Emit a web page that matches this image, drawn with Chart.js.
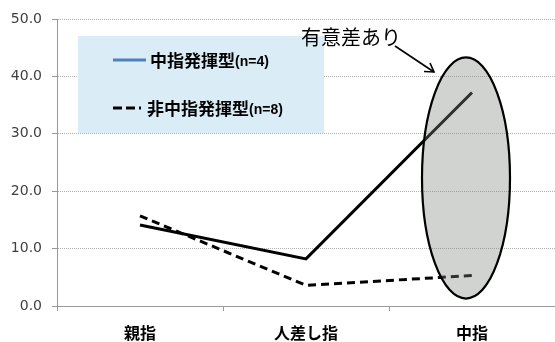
<!DOCTYPE html>
<html>
<head>
<meta charset="utf-8">
<script src="https://cdn.jsdelivr.net/npm/chart.js@4"></script>
<style>
  html, body { margin: 0; padding: 0; background: #fff; }
  #wrap { width: 555px; height: 342px; }
</style>
</head>
<body>
<div id="wrap"><canvas id="chart"></canvas></div>
<script>
// Data
const fingers = ['親指', '人差し指', '中指'];
const middleType = [14.1, 8.2, 37.2];      // 中指発揮型(n=4)
const nonMiddleType = [15.7, 3.6, 5.3];    // 非中指発揮型(n=8)
const yTicks = [0, 10, 20, 30, 40, 50];
const seriesNames = ['中指発揮型', '非中指発揮型'];
const seriesCounts = ['(n=4)', '(n=8)'];
const noteText = '有意差あり';

const jpFont = '"Noto Sans CJK JP", "Noto Sans", sans-serif';

// Legend box, ellipse, arrow and note drawn on the canvas
const overlay = {
    id: 'overlay',
    beforeDatasetsDraw(chart) {
        const ctx = chart.ctx;
        ctx.save();
        // legend background
        ctx.fillStyle = '#DAECF5';
        ctx.fillRect(78, 36, 246, 97);
        // legend samples
        ctx.lineWidth = 3;
        ctx.strokeStyle = '#4F81BD';
        ctx.beginPath();
        ctx.moveTo(113, 60);
        ctx.lineTo(146, 60);
        ctx.stroke();
        ctx.strokeStyle = '#000';
        ctx.setLineDash([9, 4]);
        ctx.beginPath();
        ctx.moveTo(113, 108);
        ctx.lineTo(141, 108);
        ctx.stroke();
        ctx.setLineDash([]);
        // legend text
        ctx.fillStyle = '#000';
        ctx.textBaseline = 'middle';
        const rows = [[150, 61], [147, 109]];
        seriesNames.forEach((name, i) => {
            const [x, y] = rows[i];
            ctx.font = 'bold 17px ' + jpFont;
            ctx.fillText(name, x, y);
            const w = ctx.measureText(name).width;
            ctx.font = 'bold 14px "Liberation Sans", Arial, sans-serif';
            ctx.fillText(seriesCounts[i], x + w, y + 1);
        });
        ctx.restore();
    },
    afterDatasetsDraw(chart) {
        const ctx = chart.ctx;
        const xs = chart.scales.x;
        const ys = chart.scales.y;
        const cx = xs.getPixelForValue(2) - 6;
        const top = ys.getPixelForValue(43.3);
        const bottom = ys.getPixelForValue(1.3);
        ctx.save();
        // highlight ellipse over the 中指 points (semi-transparent grey)
        ctx.beginPath();
        ctx.ellipse(cx, (top + bottom) / 2, 44, (bottom - top) / 2, 0, 0, Math.PI * 2);
        ctx.fillStyle = 'rgba(125, 133, 122, 0.36)';
        ctx.fill();
        ctx.lineWidth = 2.2;
        ctx.strokeStyle = '#000';
        ctx.stroke();
        // arrow
        ctx.lineWidth = 1.6;
        ctx.beginPath();
        ctx.moveTo(395, 46);
        ctx.lineTo(434, 72);
        ctx.stroke();
        ctx.beginPath();
        ctx.moveTo(424, 71.5);
        ctx.lineTo(434, 72);
        ctx.lineTo(430, 63);
        ctx.stroke();
        // note
        ctx.fillStyle = '#000';
        ctx.font = '20px ' + jpFont;
        ctx.textBaseline = 'middle';
        ctx.fillText(noteText, 301, 37);
        ctx.restore();
    }
};

new Chart(document.getElementById('chart'), {
    type: 'line',
    data: {
        labels: fingers,
        datasets: [
            {
                label: seriesNames[0] + seriesCounts[0],
                data: middleType,
                borderColor: '#000',
                borderWidth: 3,
                pointRadius: 0,
                tension: 0,
                fill: false
            },
            {
                label: seriesNames[1] + seriesCounts[1],
                data: nonMiddleType,
                borderColor: '#000',
                borderWidth: 3,
                borderDash: [8, 5],
                pointRadius: 0,
                tension: 0,
                fill: false
            }
        ]
    },
    options: {
        responsive: true,
        maintainAspectRatio: false,
        animation: false,
        layout: { padding: { top: 19, right: 0, left: 0, bottom: 0 } },
        plugins: {
            legend: { display: false },
            tooltip: { enabled: false }
        },
        scales: {
            x: {
                offset: true,
                grid: {
                    offset: true,
                    drawOnChartArea: false,
                    drawTicks: true,
                    tickLength: 5,
                    color: '#999'
                },
                border: { color: '#999', width: 1 },
                ticks: {
                    padding: 12,
                    color: '#000',
                    font: { family: jpFont, size: 16, weight: 'bold' }
                },
                afterFit(scale) { scale.height = 36; }
            },
            y: {
                min: 0,
                max: 50,
                afterBuildTicks(scale) {
                    scale.ticks = yTicks.map(v => ({ value: v }));
                },
                grid: {
                    color: ctx => ctx.tick && ctx.tick.value === 0 ? 'rgba(0,0,0,0)' : '#B0B0B0',
                    tickColor: '#999',
                    tickLength: 5,
                    tickBorderDash: []
                },
                border: { color: '#999', width: 1, dash: [1, 1] },
                ticks: {
                    padding: 10,
                    color: '#404040',
                    font: { family: '"DejaVu Sans", sans-serif', size: 14 },
                    callback: v => Number(v).toFixed(1)
                },
                afterFit(scale) { scale.width = 57; }
            }
        }
    },
    plugins: [overlay]
});
</script>
</body>
</html>
